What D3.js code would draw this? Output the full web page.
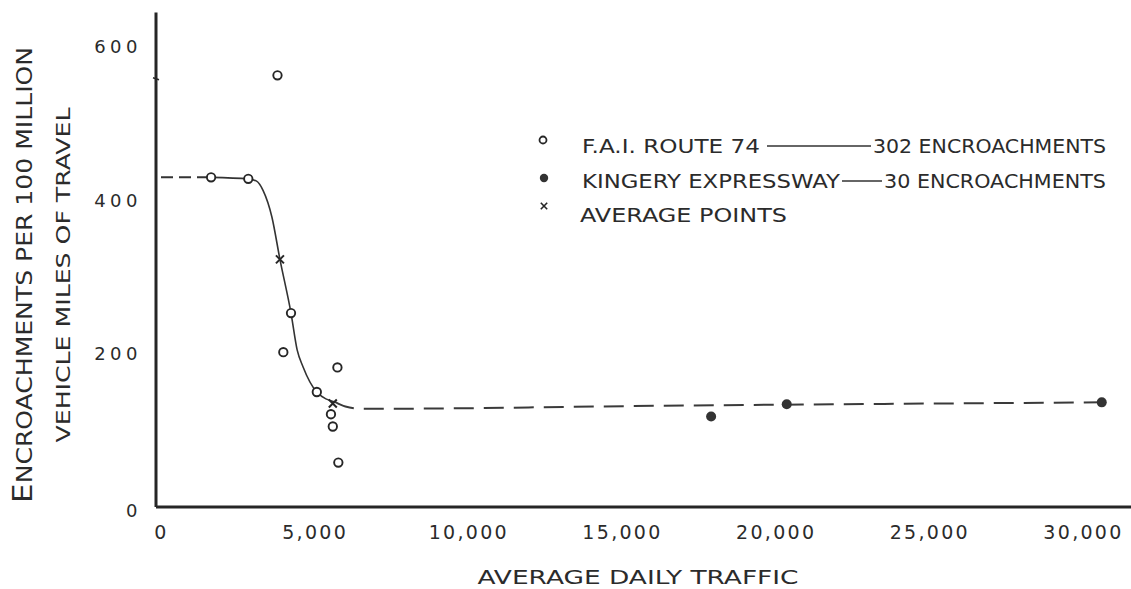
<!DOCTYPE html>
<html>
<head>
<meta charset="utf-8">
<script src="https://cdn.jsdelivr.net/npm/d3@7"></script>
<style>
  html, body { margin: 0; padding: 0; background: #ffffff; }
  svg { display: block; }
  text { font-family: "DejaVu Sans", "Liberation Sans", sans-serif; fill: #2b2b2b; }
</style>
</head>
<body>
<svg id="chart" width="1131" height="589"></svg>
<script>
// ---- data ----
const xTicks = [0, 5000, 10000, 15000, 20000, 25000, 30000];
const yTicks = [0, 200, 400, 600];

// F.A.I. Route 74 (open circles)
const routeX = [1630, 2840, 3790, 3980, 4230, 5070, 5530, 5590, 5740, 5770];
const routeY = [430, 428, 563, 202, 253, 150, 121, 105, 182, 58];

// Kingery Expressway (solid dots)
const kingeryX = [17900, 20360, 30610];
const kingeryY = [118, 134, 136.5];

// Average points (x marks)
const avgX = [3870, 5590];
const avgY = [323, 135];

// fitted curve: solid part
const curveX = [1630, 2840, 3110, 3320, 3610, 3870, 4230, 4430, 4620, 5070, 5660];
const curveY = [430, 428, 425, 413, 378, 323, 253, 205, 183, 150, 137];
// dashed lead-in from the axis
const leadX = [0, 1630];
const leadY = [430, 430];
// dashed extension to the right
const tailX = [5660, 6000, 6570, 16140, 30610];
const tailY = [137, 131, 128, 132, 136.5];

// small notch on the y axis
const notchY = [560];

const legendLabels = ["F.A.I. ROUTE 74", "KINGERY  EXPRESSWAY", "AVERAGE  POINTS"];
const legendCounts = ["302 ENCROACHMENTS", "30 ENCROACHMENTS", ""];

// ---- drawing ----
const svg = d3.select("#chart");
const ink = "#262626";

const x = d3.scaleLinear().domain([0, 30000]).range([161, 1083]);
const y = d3.scaleLinear().domain([0, 600]).range([507, 47]);

// axis lines
svg.append("line")
  .attr("x1", x(0) - 5).attr("x2", 1131)
  .attr("y1", y(0)).attr("y2", y(0))
  .attr("stroke", ink).attr("stroke-width", 3);
svg.append("line")
  .attr("x1", x(0) - 5).attr("x2", x(0) - 5)
  .attr("y1", y(0)).attr("y2", y(645))
  .attr("stroke", ink).attr("stroke-width", 3);

svg.selectAll(".notch").data(notchY).enter().append("line")
  .attr("x1", x(0) - 8).attr("x2", x(0) - 2)
  .attr("y1", d => y(d)).attr("y2", d => y(d) + 2)
  .attr("stroke", ink).attr("stroke-width", 1.5);

// x axis
const xAxis = d3.axisBottom(x).tickValues(xTicks).tickSize(0).tickPadding(19)
  .tickFormat(d3.format(","));
const gx = svg.append("g").attr("transform", `translate(0,${y(0)})`).call(xAxis);
gx.select(".domain").remove();
gx.selectAll("text")
  .style("font-family", '"DejaVu Sans", sans-serif')
  .style("font-size", "19px")
  .style("letter-spacing", "2.3px")
  .attr("fill", "#2b2b2b");

// y axis
const yAxis = d3.axisLeft(y).tickValues(yTicks).tickSize(0).tickPadding(14);
const gy = svg.append("g").attr("transform", `translate(${x(0) - 5},0)`).call(yAxis);
gy.select(".domain").remove();
gy.selectAll("text")
  .style("font-family", '"DejaVu Sans", sans-serif')
  .style("font-size", "18px")
  .style("letter-spacing", "4.5px")
  .attr("fill", "#2b2b2b")
  .attr("dy", d => d === 0 ? "0.5em" : "0.32em");

// curve
const lineGen = d3.line().x(d => x(d[0])).y(d => y(d[1])).curve(d3.curveMonotoneX);
svg.append("path")
  .attr("d", lineGen(d3.zip(curveX, curveY)))
  .attr("fill", "none").attr("stroke", "#333").attr("stroke-width", 1.6);
svg.append("path")
  .attr("d", lineGen(d3.zip(leadX, leadY)))
  .attr("fill", "none").attr("stroke", "#333").attr("stroke-width", 2)
  .attr("stroke-dasharray", "12,6");
svg.append("path")
  .attr("d", lineGen(d3.zip(tailX, tailY)))
  .attr("fill", "none").attr("stroke", "#3a3a3a").attr("stroke-width", 2)
  .attr("stroke-dasharray", "20,10");

// route 74 open circles
svg.selectAll(".route").data(d3.zip(routeX, routeY)).enter().append("circle")
  .attr("cx", d => x(d[0])).attr("cy", d => y(d[1])).attr("r", 4.2)
  .attr("fill", "#fff").attr("stroke", ink).attr("stroke-width", 1.9);

// kingery solid dots
svg.selectAll(".king").data(d3.zip(kingeryX, kingeryY)).enter().append("circle")
  .attr("cx", d => x(d[0])).attr("cy", d => y(d[1])).attr("r", 5)
  .attr("fill", "#333");

// average x marks
const cross = (cx, cy, s) => `M${cx - s},${cy - s}L${cx + s},${cy + s}M${cx + s},${cy - s}L${cx - s},${cy + s}`;
svg.selectAll(".avg").data(d3.zip(avgX, avgY)).enter().append("path")
  .attr("d", d => cross(x(d[0]), y(d[1]), 4))
  .attr("stroke", ink).attr("stroke-width", 2).attr("fill", "none");

// legend
const legRowY = [146, 181, 215];
const legTextX = 582;
const legLabelLen = [178, 258, 207];
const legCountX = [873, 884];
const legCountLen = [233, 222];
const legLineX = [[767, 871], [842, 882]];

svg.append("circle").attr("cx", 543).attr("cy", legRowY[0] - 6).attr("r", 3.5)
  .attr("fill", "#fff").attr("stroke", ink).attr("stroke-width", 1.8);
svg.append("circle").attr("cx", 544).attr("cy", legRowY[1] - 3).attr("r", 4.2)
  .attr("fill", "#333");
svg.append("path").attr("d", cross(544, legRowY[2] - 9, 3.2))
  .attr("stroke", ink).attr("stroke-width", 1.6);

legendLabels.forEach((t, i) => {
  svg.append("text")
    .attr("x", legTextX - (i === 2 ? 2 : 0)).attr("y", legRowY[i])
    .attr("dy", "0.36em")
    .attr("textLength", legLabelLen[i]).attr("lengthAdjust", "spacingAndGlyphs")
    .style("font-size", "19px")
    .text(t);
  if (legendCounts[i]) {
    svg.append("line")
      .attr("x1", legLineX[i][0]).attr("x2", legLineX[i][1])
      .attr("y1", legRowY[i]).attr("y2", legRowY[i])
      .attr("stroke", "#333").attr("stroke-width", 1.5);
    svg.append("text")
      .attr("x", legCountX[i]).attr("y", legRowY[i])
      .attr("dy", "0.36em")
      .attr("textLength", legCountLen[i]).attr("lengthAdjust", "spacingAndGlyphs")
      .style("font-size", "19px")
      .text(legendCounts[i]);
  }
});

// axis titles
svg.append("text")
  .attr("x", 638).attr("y", 577).attr("dy", "0.36em")
  .attr("text-anchor", "middle")
  .attr("textLength", 321).attr("lengthAdjust", "spacingAndGlyphs")
  .style("font-size", "20px")
  .text("AVERAGE DAILY TRAFFIC");

const t1 = svg.append("text")
  .attr("transform", "translate(24,275) rotate(-90)")
  .attr("text-anchor", "middle").attr("dy", "0.36em")
  .attr("textLength", 456).attr("lengthAdjust", "spacingAndGlyphs")
  .style("font-size", "21px");
t1.append("tspan").style("font-size", "26px").text("E");
t1.append("tspan").text("NCROACHMENTS  PER 100  MILLION");

svg.append("text")
  .attr("transform", "translate(63,275) rotate(-90)")
  .attr("text-anchor", "middle").attr("dy", "0.36em")
  .attr("textLength", 335).attr("lengthAdjust", "spacingAndGlyphs")
  .style("font-size", "20px")
  .text("VEHICLE  MILES OF TRAVEL");
</script>
</body>
</html>
